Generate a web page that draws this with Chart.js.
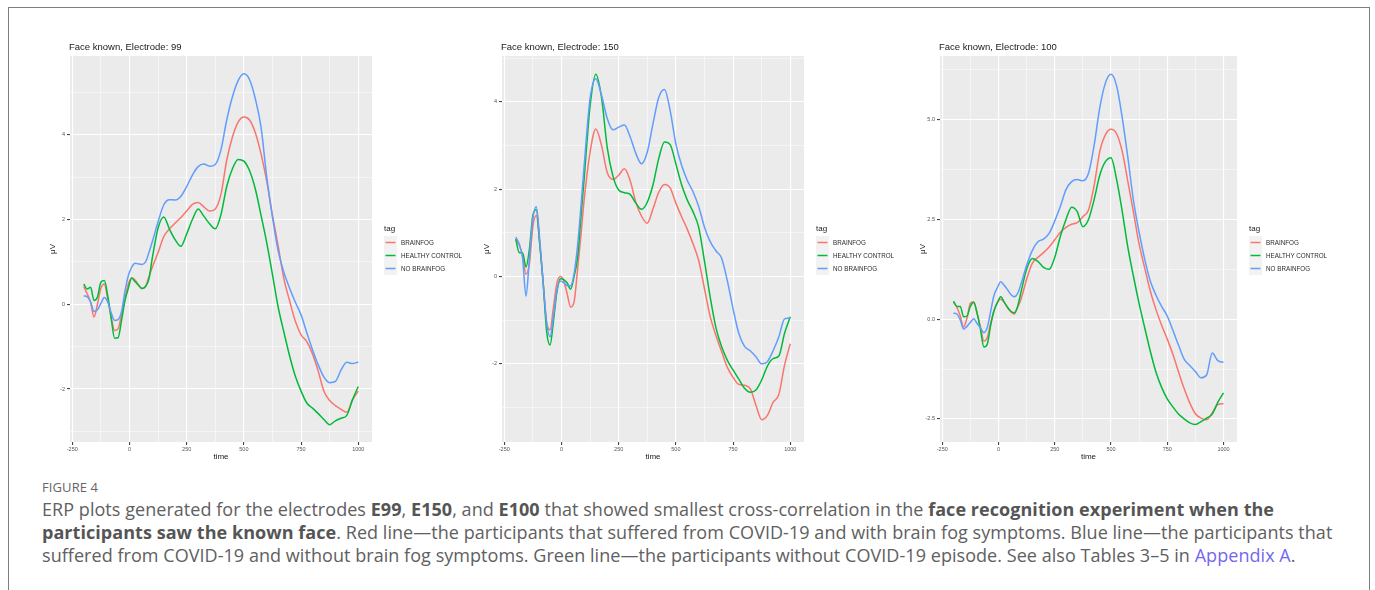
<!DOCTYPE html>
<html>
<head>
<meta charset="utf-8">
<script src="https://cdn.jsdelivr.net/npm/chart.js@4.4.1/dist/chart.umd.min.js"></script>
<style>
  html, body { margin: 0; padding: 0; background: #fff; }
  #fig { position: relative; width: 1375px; height: 590px; overflow: hidden; }
  #frame { position: absolute; left: 8px; top: 7px; width: 1360px; height: 640px; border: 1px solid #7d7d7d; }
  canvas { position: absolute; top: 30px; }
  #chartOne { left: 30px; }
  #chartTwo { left: 462px; }
  #chartThree { left: 900px; }
  .fignum { position: absolute; left: 42px; top: 479px; font: 400 13px/16px "Open Sans", sans-serif; color: #666; letter-spacing: 0.1px; }
  .caption { position: absolute; left: 42px; top: 498px; font: 18px/23px "Open Sans", sans-serif; color: #606060; white-space: nowrap; letter-spacing: 0.05px; }
  .caption b { font-weight: 700; color: #555; }
  .caption .link { color: #7467f0; }
</style>
</head>
<body>
<div id="fig">
  <div id="frame"></div>
  <canvas id="chartOne" width="440" height="440"></canvas>
  <canvas id="chartTwo" width="436" height="440"></canvas>
  <canvas id="chartThree" width="440" height="440"></canvas>
  <div class="fignum">FIGURE 4</div>
  <div class="caption">ERP plots generated for the electrodes <b>E99</b>, <b>E150</b>, and <b>E100</b> that showed smallest cross-correlation in the <b>face recognition experiment when the</b><br><b>participants saw the known face</b>. Red line—the participants that suffered from COVID-19 and with brain fog symptoms. Blue line—the participants that<br>suffered from COVID-19 and without brain fog symptoms. Green line—the participants without COVID-19 episode. See also Tables 3–5 in <span class="link">Appendix A</span>.</div>
</div>
<script>
"use strict";

let times = [-200, -185, -170, -155, -140, -125, -110, -95, -80, -65, -50, -35, -20, -5, 10, 25, 40, 55, 70, 85, 100,
  125, 150, 175, 200, 225, 250, 275, 300, 325, 350, 375, 400, 425, 450, 475, 500, 525, 550, 575, 600,
  625, 650, 675, 700, 725, 750, 775, 800, 825, 850, 875, 900, 925, 950, 975, 1000];

let tags = ["BRAINFOG", "HEALTHY CONTROL", "NO BRAINFOG"];
let tagColors = ["#F8766D", "#00BA38", "#619CFF"];

let xTicks = [-250, 0, 250, 500, 750, 1000];
let yTicksSmall = [-2, 0, 2, 4];
let yTicksE100 = [-2.5, 0, 2.5, 5];

// electrode 99
let e99Brainfog = [0.42, 0.25, 0.05, -0.30, 0.0, 0.38, 0.48, 0.12, -0.30, -0.62, -0.58, -0.25, 0.12, 0.48, 0.62, 0.57, 0.45, 0.37, 0.42, 0.65, 0.88,
  1.22, 1.6, 1.78, 1.92, 2.05, 2.2, 2.36, 2.4, 2.3, 2.2, 2.25, 2.6, 3.4, 3.95, 4.3, 4.42, 4.35, 4.05, 3.55, 2.9,
  2.1, 1.37, 0.6, 0.08, -0.4, -0.72, -0.88, -1.17, -1.58, -2.05, -2.27, -2.39, -2.48, -2.55, -2.25, -2.05];
let e99Healthy = [0.48, 0.36, 0.40, 0.09, 0.17, 0.52, 0.56, 0.20, -0.33, -0.80, -0.79, -0.39, 0.08, 0.38, 0.62, 0.53, 0.45, 0.37, 0.42, 0.60, 1.10,
  1.8, 2.06, 1.77, 1.52, 1.37, 1.66, 2.0, 2.25, 2.08, 1.9, 1.78, 2.12, 2.78, 3.2, 3.42, 3.38, 3.15, 2.72, 2.1, 1.45,
  0.7, -0.07, -0.66, -1.22, -1.7, -2.05, -2.33, -2.45, -2.58, -2.72, -2.84, -2.75, -2.69, -2.62, -2.25, -1.94];
let e99NoBrainfog = [0.20, 0.18, 0.06, -0.17, -0.13, 0.02, 0.16, 0.05, -0.20, -0.38, -0.36, -0.18, 0.30, 0.68, 0.88, 0.97, 0.95, 0.94, 1.00, 1.22, 1.48,
  1.95, 2.35, 2.47, 2.46, 2.55, 2.78, 3.05, 3.25, 3.31, 3.26, 3.3, 3.65, 4.35, 4.9, 5.28, 5.44, 5.3, 4.85, 4.18, 3.0,
  2.05, 1.26, 0.75, 0.38, 0.05, -0.25, -0.67, -1.07, -1.43, -1.72, -1.85, -1.82, -1.55, -1.37, -1.40, -1.36];

// electrode 150
let e150Brainfog = [0.86, 0.72, 0.48, 0.05, 0.30, 1.15, 1.40, 0.75, -0.15, -1.05, -1.22, -0.70, -0.15, 0.0, -0.10, -0.40, -0.70, -0.58, 0.14, 0.95, 1.80,
  2.85, 3.38, 3.0, 2.38, 2.22, 2.32, 2.47, 2.2, 1.7, 1.38, 1.22, 1.55, 1.93, 2.11, 2.03, 1.68, 1.37, 1.08, 0.75, 0.36,
  -0.28, -0.92, -1.35, -1.72, -2.08, -2.31, -2.47, -2.49, -2.57, -2.95, -3.28, -3.18, -2.88, -2.7, -2.03, -1.54];
let e150Healthy = [0.86, 0.55, 0.54, 0.22, 0.64, 1.40, 1.53, 0.74, -0.15, -1.25, -1.57, -1.02, -0.35, -0.05, -0.07, -0.15, -0.29, 0.0, 0.42, 1.35, 2.30,
  3.9, 4.63, 4.1, 2.95, 2.3, 1.98, 1.92, 1.88, 1.68, 1.54, 1.7, 2.1, 2.7, 3.08, 3.02, 2.58, 2.1, 1.75, 1.48, 1.12,
  0.35, -0.47, -1.17, -1.61, -1.92, -2.14, -2.35, -2.56, -2.65, -2.6, -2.37, -2.05, -1.88, -1.82, -1.3, -0.92];
let e150NoBrainfog = [0.90, 0.75, 0.42, -0.45, 0.44, 1.33, 1.60, 0.84, -0.16, -1.05, -1.38, -0.90, -0.32, -0.10, -0.14, -0.21, -0.21, 0.06, 0.69, 1.60, 2.60,
  4.08, 4.53, 4.15, 3.62, 3.36, 3.42, 3.47, 3.2, 2.82, 2.58, 2.85, 3.5, 4.1, 4.28, 3.8, 3.03, 2.55, 2.2, 1.94, 1.6,
  1.13, 0.8, 0.59, 0.42, -0.1, -0.74, -1.3, -1.6, -1.7, -1.84, -2.0, -1.95, -1.7, -1.38, -0.97, -0.95];

// electrode 100
let e100Brainfog = [0.43, 0.30, 0.08, -0.20, 0.03, 0.40, 0.44, 0.14, -0.20, -0.55, -0.46, -0.10, 0.21, 0.42, 0.50, 0.43, 0.29, 0.18, 0.13, 0.30, 0.50,
  1.0, 1.4, 1.55, 1.67, 1.81, 1.99, 2.18, 2.3, 2.38, 2.42, 2.57, 2.74, 3.35, 4.2, 4.62, 4.76, 4.65, 4.2, 3.45, 2.68,
  1.88, 1.28, 0.7, 0.24, -0.15, -0.5, -0.88, -1.32, -1.74, -2.1, -2.37, -2.48, -2.52, -2.35, -2.14, -2.12];
let e100Healthy = [0.45, 0.32, 0.32, 0.06, 0.08, 0.32, 0.42, 0.15, -0.26, -0.70, -0.63, -0.16, 0.21, 0.41, 0.56, 0.43, 0.30, 0.20, 0.16, 0.32, 0.68,
  1.25, 1.52, 1.45, 1.30, 1.25, 1.55, 2.08, 2.5, 2.81, 2.7, 2.32, 2.5, 3.0, 3.61, 3.95, 4.05, 3.5, 2.7, 1.8, 1.07,
  0.39, -0.22, -0.81, -1.33, -1.71, -2.0, -2.2, -2.38, -2.5, -2.6, -2.64, -2.57, -2.48, -2.38, -2.08, -1.85];
let e100NoBrainfog = [0.15, 0.13, -0.02, -0.25, -0.18, -0.08, 0.01, -0.11, -0.22, -0.34, -0.21, 0.19, 0.60, 0.79, 0.94, 0.85, 0.74, 0.62, 0.56, 0.64, 0.88,
  1.35, 1.72, 1.94, 2.01, 2.15, 2.46, 2.83, 3.25, 3.45, 3.5, 3.47, 3.66, 4.36, 5.3, 5.92, 6.14, 5.85, 5.05, 4.05, 2.97,
  2.18, 1.5, 0.95, 0.6, 0.32, 0.08, -0.28, -0.65, -1.0, -1.16, -1.31, -1.47, -1.4, -0.85, -1.04, -1.08];

Chart.defaults.font.family = "'Liberation Sans', Arial, Helvetica, sans-serif";
Chart.defaults.devicePixelRatio = 1;

// grey panel, title and ggplot-like legend
let ggDecor = {
  id: "ggDecor",
  beforeDraw(chart, args, opts) {
    let a = chart.chartArea;
    let ctx = chart.ctx;
    ctx.save();
    ctx.fillStyle = "#EBEBEB";
    ctx.fillRect(a.left, a.top, a.right - a.left, a.bottom - a.top);
    ctx.restore();
  },
  afterDraw(chart, args, opts) {
    let a = chart.chartArea;
    let ctx = chart.ctx;
    ctx.save();
    ctx.textBaseline = "middle";
    ctx.textAlign = "left";
    ctx.fillStyle = "#1a1a1a";
    ctx.font = "9.5px 'Liberation Sans', Arial, sans-serif";
    ctx.fillText(opts.title, a.left - 1, 17);

    let kx = a.right + 12;
    ctx.font = "8px 'Liberation Sans', Arial, sans-serif";
    ctx.fillText("tag", kx, 199);
    chart.data.datasets.forEach(function (ds, i) {
      let ky = 206 + i * 13;
      ctx.fillStyle = "#F2F2F2";
      ctx.fillRect(kx, ky, 13, 13);
      ctx.strokeStyle = ds.borderColor;
      ctx.lineWidth = 1.5;
      ctx.beginPath();
      ctx.moveTo(kx + 1.5, ky + 6.5);
      ctx.lineTo(kx + 11.5, ky + 6.5);
      ctx.stroke();
      ctx.fillStyle = "#2b2b2b";
      ctx.font = "6.3px 'Liberation Sans', Arial, sans-serif";
      ctx.fillText(ds.label, kx + 17, ky + 6.8);
    });
    ctx.restore();
  },
};

function isMajor(value, list) {
  return list.some((m) => Math.abs(m - value) < 1e-6);
}

function erpChart(canvasId, title, series, yMin, yMax, yStep, yMajor, yFormat, titlePad, rightPad) {
  let ctx = document.getElementById(canvasId).getContext("2d");
  return new Chart(ctx, {
    type: "line",
    data: {
      datasets: series.map(function (values, i) {
        return {
          label: tags[i],
          data: times.map((t, j) => ({ x: t, y: values[j] })),
          borderColor: tagColors[i],
          borderWidth: 1.5,
          pointRadius: 0,
          fill: false,
          cubicInterpolationMode: "monotone",
          order: 2 - i,
        };
      }),
    },
    options: {
      responsive: false,
      animation: false,
      layout: { padding: { top: 26, right: rightPad, bottom: 0, left: 0 } },
      plugins: {
        legend: { display: false },
        tooltip: { enabled: false },
        ggDecor: { title: title },
      },
      scales: {
        x: {
          type: "linear",
          min: -260,
          max: 1060,
          afterFit: (scale) => { scale.height = 28; },
          border: { display: false },
          grid: {
            color: "#FFFFFF",
            lineWidth: (c) => (isMajor(c.tick.value, xTicks) ? 1.1 : 0.5),
            tickColor: (c) => (isMajor(c.tick.value, xTicks) ? "#444" : "rgba(0,0,0,0)"),
            tickLength: 3,
          },
          ticks: {
            stepSize: 125,
            includeBounds: false,
            autoSkip: false,
            maxRotation: 0,
            minRotation: 0,
            padding: 1,
            color: "#555",
            font: { size: 5.5 },
            callback: (v) => (isMajor(v, xTicks) ? String(v) : ""),
          },
          title: {
            display: true,
            text: "time",
            color: "#1a1a1a",
            font: { size: 8 },
            padding: { top: 0, bottom: 8 },
          },
        },
        y: {
          type: "linear",
          min: yMin,
          max: yMax,
          afterFit: (scale) => { scale.width = 40; },
          border: { display: false },
          grid: {
            color: "#FFFFFF",
            lineWidth: (c) => (isMajor(c.tick.value, yMajor) ? 1.1 : 0.5),
            tickColor: (c) => (isMajor(c.tick.value, yMajor) ? "#444" : "rgba(0,0,0,0)"),
            tickLength: 3,
          },
          ticks: {
            stepSize: yStep,
            includeBounds: false,
            autoSkip: false,
            padding: 2,
            color: "#555",
            font: { size: 5.5 },
            callback: (v) => (isMajor(v, yMajor) ? yFormat(v) : ""),
          },
          title: {
            display: true,
            text: "μV",
            color: "#1a1a1a",
            font: { size: 8 },
            padding: { top: titlePad, bottom: 0 },
          },
        },
      },
    },
    plugins: [ggDecor],
  });
}

let chartOne = erpChart("chartOne", "Face known, Electrode: 99",
  [e99Brainfog, e99Healthy, e99NoBrainfog],
  -3.25, 5.86, 1, yTicksSmall, (v) => String(v), 18, 98);

let chartTwo = erpChart("chartTwo", "Face known, Electrode: 150",
  [e150Brainfog, e150Healthy, e150NoBrainfog],
  -3.79, 5.05, 1, yTicksSmall, (v) => String(v), 20, 94);

let chartThree = erpChart("chartThree", "Face known, Electrode: 100",
  [e100Brainfog, e100Healthy, e100NoBrainfog],
  -3.08, 6.6, 1.25, yTicksE100, (v) => v.toFixed(1), 18, 103);
</script>
</body>
</html>
